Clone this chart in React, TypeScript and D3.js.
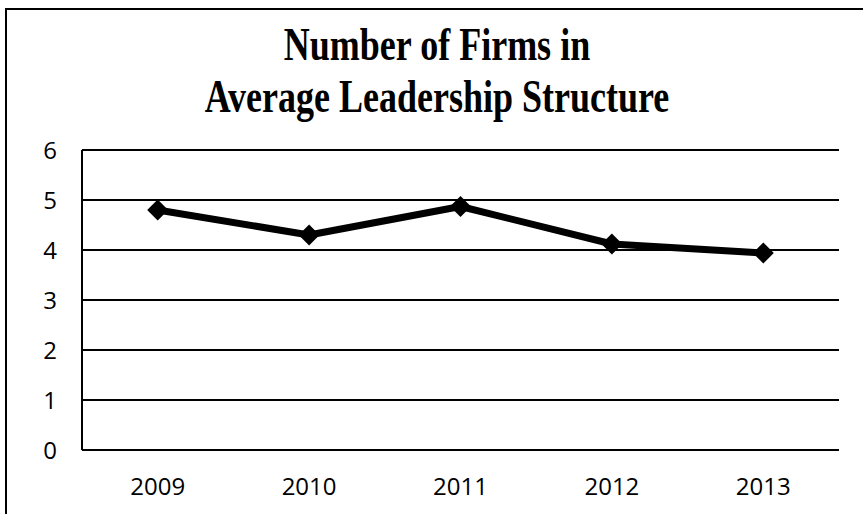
import React from 'react';
import * as d3 from 'd3';

const categories = ['2009', '2010', '2011', '2012', '2013'];
const values = [4.8, 4.3, 4.87, 4.12, 3.94];
const yTicks = [0, 1, 2, 3, 4, 5, 6];
const titleLines = ['Number of Firms in', 'Average Leadership Structure'];

const W = 863;
const H = 514;

export default function App() {
  const x = d3.scaleBand<string>().domain(categories).range([82, 839]);
  const y = d3.scaleLinear().domain([0, 6]).range([450, 150]);
  const cx = (c: string) => (x(c) as number) + x.bandwidth() / 2;
  const line = d3
    .line<number>()
    .x((_, i) => cx(categories[i]))
    .y((d) => y(d));
  const diamond = d3.symbol().type(d3.symbolSquare).size(220)() as string;
  const tickFont = "'Open Sans', sans-serif";

  return (
    <svg
      width={W}
      height={H}
      style={{ position: 'absolute', left: 0, top: 0, background: '#fff' }}
    >
      <rect x={6} y={9} width={W + 20} height={H + 20} fill="#fff" stroke="#000" strokeWidth={2} />
      <g fontFamily="'Liberation Serif', 'Times New Roman', serif" fontWeight="bold" fontSize={36} textAnchor="middle">
        {titleLines.map((t, i) => (
          <text key={t} transform={`translate(437, ${60 + i * 52}) scale(1, 1.3)`}>
            {t}
          </text>
        ))}
      </g>
      <g>
        {yTicks.map((t) => (
          <line key={t} x1={82} x2={839} y1={y(t)} y2={y(t)} stroke="#000" strokeWidth={2} />
        ))}
        <line x1={82} x2={82} y1={y(6)} y2={y(0)} stroke="#000" strokeWidth={2} />
      </g>
      <g fontFamily={tickFont} fontSize={24} textAnchor="middle" fill="#000">
        {yTicks.map((t) => (
          <text key={t} x={50} y={y(t)} dy="0.36em">
            {t}
          </text>
        ))}
        {categories.map((c) => (
          <text key={c} x={cx(c)} y={486} dy="0.36em">
            {c}
          </text>
        ))}
      </g>
      <path d={line(values) as string} fill="none" stroke="#000" strokeWidth={7} strokeLinejoin="round" />
      {values.map((v, i) => (
        <path key={i} d={diamond} transform={`translate(${cx(categories[i])}, ${y(v)}) rotate(45)`} fill="#000" />
      ))}
    </svg>
  );
}
